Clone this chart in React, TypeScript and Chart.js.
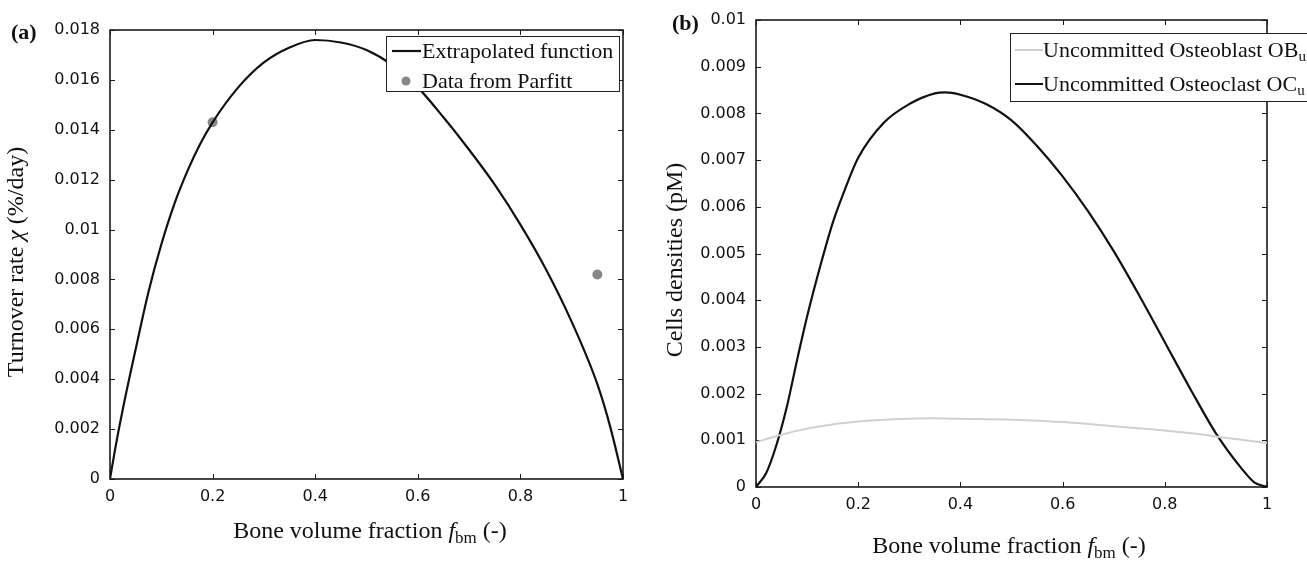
import React, { useEffect, useRef } from 'react';
import { Chart, registerables } from 'chart.js';

Chart.register(...registerables);

// ---------- data: panel (a) ----------
const fA = [0, 0.01, 0.025, 0.05, 0.075, 0.1, 0.125, 0.15, 0.175, 0.2, 0.25, 0.3, 0.35, 0.4, 0.45, 0.5, 0.55, 0.6, 0.65, 0.7, 0.75, 0.8, 0.85, 0.9, 0.95, 0.975, 1];
const chiA = [0, 0.0012, 0.0028, 0.0052, 0.0075, 0.0094, 0.011, 0.0123, 0.0134, 0.0143, 0.0157, 0.0167, 0.0173, 0.0176, 0.0175, 0.0172, 0.0166, 0.0157, 0.0145, 0.0132, 0.0118, 0.0102, 0.0084, 0.0063, 0.0038, 0.0021, 0];
const parfittF = [0.2, 0.95];
const parfittChi = [0.0143, 0.0082];

// ---------- data: panel (b) ----------
const fB = [0, 0.02, 0.04, 0.06, 0.08, 0.1, 0.125, 0.15, 0.175, 0.2, 0.25, 0.3, 0.35, 0.37, 0.4, 0.45, 0.5, 0.55, 0.6, 0.65, 0.7, 0.75, 0.8, 0.85, 0.9, 0.95, 0.975, 1];
const ocU = [0, 0.0003, 0.0009, 0.0017, 0.0027, 0.00365, 0.0047, 0.00565, 0.0064, 0.00705, 0.0078, 0.0082, 0.00843, 0.00845, 0.0084, 0.0082, 0.00785, 0.0073, 0.00665, 0.0059, 0.00505, 0.0041, 0.0031, 0.0021, 0.00115, 0.0004, 0.0001, 0];
const obF = [0, 0.05, 0.1, 0.15, 0.2, 0.25, 0.3, 0.35, 0.4, 0.5, 0.6, 0.7, 0.8, 0.87, 0.9, 0.95, 1];
const obU = [0.00096, 0.00112, 0.00125, 0.00134, 0.0014, 0.00144, 0.00146, 0.00147, 0.00146, 0.00144, 0.00139, 0.0013, 0.00121, 0.00113, 0.00108, 0.00101, 0.00094];

// ---------- ticks ----------
const xTicks = [0, 0.2, 0.4, 0.6, 0.8, 1];
const xTickLabels = ['0', '0.2', '0.4', '0.6', '0.8', '1'];
const yTicksA = [0, 0.002, 0.004, 0.006, 0.008, 0.01, 0.012, 0.014, 0.016, 0.018];
const yTickLabelsA = ['0', '0.002', '0.004', '0.006', '0.008', '0.01', '0.012', '0.014', '0.016', '0.018'];
const yTicksB = [0, 0.001, 0.002, 0.003, 0.004, 0.005, 0.006, 0.007, 0.008, 0.009, 0.01];
const yTickLabelsB = ['0', '0.001', '0.002', '0.003', '0.004', '0.005', '0.006', '0.007', '0.008', '0.009', '0.01'];

const SANS = "'DejaVu Sans', sans-serif";
const SERIF = "'Liberation Serif', 'Times New Roman', serif";
const TITLE_PX = 24;
const LEG_PX = 22;

type Part = { t: string; font: string; dy?: number };

function richWidth(ctx: CanvasRenderingContext2D, parts: Part[]) {
  let w = 0;
  for (const p of parts) {
    ctx.font = p.font;
    w += ctx.measureText(p.t).width;
  }
  return w;
}

function drawRich(ctx: CanvasRenderingContext2D, parts: Part[], x: number, y: number, align: 'left' | 'center') {
  const w = richWidth(ctx, parts);
  let cx = align === 'center' ? x - w / 2 : x;
  ctx.textAlign = 'left';
  ctx.textBaseline = 'alphabetic';
  for (const p of parts) {
    ctx.font = p.font;
    ctx.fillText(p.t, cx, y + (p.dy || 0));
    cx += ctx.measureText(p.t).width;
  }
}

const norm = (px: number) => `${px}px ${SERIF}`;
const ital = (px: number) => `italic ${px}px ${SERIF}`;

const xTitleParts: Part[] = [
  { t: 'Bone volume fraction ', font: norm(TITLE_PX) },
  { t: 'f', font: ital(TITLE_PX) },
  { t: 'bm', font: norm(17), dy: 5 },
  { t: ' (-)', font: norm(TITLE_PX) },
];

const framePlugin = {
  id: 'frameTicks',
  beforeDatasetsDraw(chart: any) {
    const { ctx, chartArea: a, scales } = chart;
    ctx.save();
    ctx.strokeStyle = '#1a1a1a';
    ctx.lineWidth = 1.6;
    ctx.strokeRect(a.left, a.top, a.right - a.left, a.bottom - a.top);
    const L = 5;
    ctx.lineWidth = 1;
    ctx.beginPath();
    for (const t of scales.x.ticks) {
      const px = Math.round(scales.x.getPixelForValue(t.value)) + 0.5;
      ctx.moveTo(px, a.bottom);
      ctx.lineTo(px, a.bottom - L);
      ctx.moveTo(px, a.top);
      ctx.lineTo(px, a.top + L);
    }
    for (const t of scales.y.ticks) {
      const py = Math.round(scales.y.getPixelForValue(t.value)) + 0.5;
      ctx.moveTo(a.left, py);
      ctx.lineTo(a.left + L, py);
      ctx.moveTo(a.right, py);
      ctx.lineTo(a.right - L, py);
    }
    ctx.stroke();
    ctx.restore();
  },
};

function makeScales(yTicks: number[], yLabels: string[], yMax: number, yWidth: number, xHeight: number) {
  return {
    x: {
      type: 'linear',
      min: 0,
      max: 1,
      afterBuildTicks: (s: any) => {
        s.ticks = xTicks.map((v) => ({ value: v }));
      },
      afterFit: (s: any) => {
        s.height = xHeight;
      },
      ticks: {
        font: { family: SANS, size: 16 },
        color: '#111',
        padding: 8,
        maxRotation: 0,
        autoSkip: false,
        callback: (_v: any, i: number) => xTickLabels[i],
      },
      grid: { display: false, drawTicks: false },
      border: { display: false },
    },
    y: {
      type: 'linear',
      min: 0,
      max: yMax,
      afterBuildTicks: (s: any) => {
        s.ticks = yTicks.map((v) => ({ value: v }));
      },
      afterFit: (s: any) => {
        s.width = yWidth;
      },
      ticks: {
        font: { family: SANS, size: 16 },
        color: '#111',
        padding: 10,
        autoSkip: false,
        callback: (_v: any, i: number) => yLabels[i],
      },
      grid: { display: false, drawTicks: false },
      border: { display: false },
    },
  };
}

function PanelA() {
  const ref = useRef<HTMLCanvasElement | null>(null);
  useEffect(() => {
    if (!ref.current) return;
    const deco = {
      id: 'decoA',
      afterDatasetsDraw(chart: any) {
        const { ctx } = chart;
        ctx.save();
        ctx.fillStyle = '#111';
        ctx.font = `bold 22px ${SERIF}`;
        ctx.textAlign = 'left';
        ctx.textBaseline = 'alphabetic';
        ctx.fillText('(a)', 11, 39);
        drawRich(ctx, xTitleParts, 370, 538, 'center');
        ctx.save();
        ctx.translate(23, 262);
        ctx.rotate(-Math.PI / 2);
        drawRich(
          ctx,
          [
            { t: 'Turnover rate ', font: norm(TITLE_PX) },
            { t: 'χ', font: ital(TITLE_PX) },
            { t: ' (%/day)', font: norm(TITLE_PX) },
          ],
          0,
          0,
          'center'
        );
        ctx.restore();
        // legend
        const lx = 386, ly = 36, lw = 233, lh = 55;
        ctx.fillStyle = '#fff';
        ctx.fillRect(lx, ly, lw, lh);
        ctx.strokeStyle = '#222';
        ctx.lineWidth = 1;
        ctx.strokeRect(lx + 0.5, ly + 0.5, lw, lh);
        ctx.strokeStyle = '#111';
        ctx.lineWidth = 2.2;
        ctx.beginPath();
        ctx.moveTo(392, 51);
        ctx.lineTo(421, 51);
        ctx.stroke();
        ctx.fillStyle = '#888';
        ctx.beginPath();
        ctx.arc(406, 81, 4.5, 0, Math.PI * 2);
        ctx.fill();
        ctx.fillStyle = '#111';
        drawRich(ctx, [{ t: 'Extrapolated function', font: norm(LEG_PX) }], 422, 58, 'left');
        drawRich(ctx, [{ t: 'Data from Parfitt', font: norm(LEG_PX) }], 422, 88, 'left');
        ctx.restore();
      },
    };
    const chart = new Chart(ref.current, {
      type: 'line',
      data: {
        datasets: [
          {
            label: 'Extrapolated function',
            data: fA.map((x, i) => ({ x, y: chiA[i] })),
            borderColor: '#111',
            borderWidth: 2.2,
            pointRadius: 0,
            cubicInterpolationMode: 'monotone',
            fill: false,
          },
          {
            label: 'Data from Parfitt',
            data: parfittF.map((x, i) => ({ x, y: parfittChi[i] })),
            showLine: false,
            pointRadius: 5,
            pointBackgroundColor: '#888',
            pointBorderColor: '#888',
            borderWidth: 0,
          },
        ],
      },
      options: {
        responsive: false,
        animation: false,
        layout: { padding: { left: 0, right: 27, top: 30, bottom: 0 } },
        plugins: { legend: { display: false }, tooltip: { enabled: false } },
        scales: makeScales(yTicksA, yTickLabelsA, 0.018, 110, 82) as any,
      },
      plugins: [framePlugin, deco],
    } as any);
    return () => chart.destroy();
  }, []);
  return <canvas ref={ref} width={650} height={561} style={{ position: 'absolute', left: 0, top: 0 }} />;
}

function PanelB() {
  const ref = useRef<HTMLCanvasElement | null>(null);
  useEffect(() => {
    if (!ref.current) return;
    const deco = {
      id: 'decoB',
      afterDatasetsDraw(chart: any) {
        const { ctx } = chart;
        ctx.save();
        ctx.fillStyle = '#111';
        ctx.font = `bold 22px ${SERIF}`;
        ctx.textAlign = 'left';
        ctx.textBaseline = 'alphabetic';
        ctx.fillText('(b)', 22, 30);
        drawRich(ctx, xTitleParts, 359, 553, 'center');
        ctx.save();
        ctx.translate(32, 260);
        ctx.rotate(-Math.PI / 2);
        drawRich(ctx, [{ t: 'Cells densities (pM)', font: norm(TITLE_PX) }], 0, 0, 'center');
        ctx.restore();
        // legend
        const lx = 360, ly = 33, lw = 320, lh = 68;
        ctx.fillStyle = '#fff';
        ctx.fillRect(lx, ly, lw, lh);
        ctx.strokeStyle = '#222';
        ctx.lineWidth = 1;
        ctx.strokeRect(lx + 0.5, ly + 0.5, lw, lh);
        ctx.lineWidth = 2;
        ctx.strokeStyle = '#cfcfcf';
        ctx.beginPath();
        ctx.moveTo(365, 50);
        ctx.lineTo(393, 50);
        ctx.stroke();
        ctx.strokeStyle = '#111';
        ctx.beginPath();
        ctx.moveTo(365, 84);
        ctx.lineTo(393, 84);
        ctx.stroke();
        ctx.fillStyle = '#111';
        drawRich(
          ctx,
          [
            { t: 'Uncommitted Osteoblast OB', font: norm(LEG_PX) },
            { t: 'u', font: norm(15), dy: 4 },
          ],
          393,
          57,
          'left'
        );
        drawRich(
          ctx,
          [
            { t: 'Uncommitted Osteoclast OC', font: norm(LEG_PX) },
            { t: 'u', font: norm(15), dy: 4 },
          ],
          393,
          91,
          'left'
        );
        ctx.restore();
      },
    };
    const chart = new Chart(ref.current, {
      type: 'line',
      data: {
        datasets: [
          {
            label: 'Uncommitted Osteoblast OBu',
            data: obF.map((x, i) => ({ x, y: obU[i] })),
            borderColor: '#d0d0d0',
            borderWidth: 2,
            pointRadius: 0,
            cubicInterpolationMode: 'monotone',
            fill: false,
          },
          {
            label: 'Uncommitted Osteoclast OCu',
            data: fB.map((x, i) => ({ x, y: ocU[i] })),
            borderColor: '#111',
            borderWidth: 2.2,
            pointRadius: 0,
            cubicInterpolationMode: 'monotone',
            fill: false,
          },
        ],
      },
      options: {
        responsive: false,
        animation: false,
        layout: { padding: { left: 0, right: 40, top: 20, bottom: 0 } },
        plugins: { legend: { display: false }, tooltip: { enabled: false } },
        scales: makeScales(yTicksB, yTickLabelsB, 0.01, 106, 74) as any,
      },
      plugins: [framePlugin, deco],
    } as any);
    return () => chart.destroy();
  }, []);
  return <canvas ref={ref} width={657} height={561} style={{ position: 'absolute', left: 650, top: 0 }} />;
}

export default function App() {
  return (
    <div style={{ position: 'fixed', left: 0, top: 0, width: 1307, height: 561, background: '#fff', overflow: 'hidden' }}>
      <PanelA />
      <PanelB />
    </div>
  );
}
